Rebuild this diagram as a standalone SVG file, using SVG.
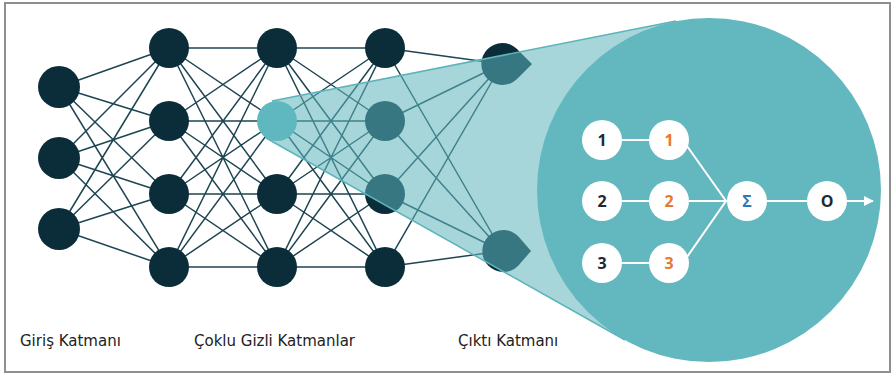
<svg xmlns="http://www.w3.org/2000/svg" width="894" height="375" viewBox="0 0 894 375">
<defs>
<style>
.ln{stroke:#1d4552;stroke-width:1.5;fill:none}
.nd{fill:#0b2d3a}
.lbl{font-family:"DejaVu Sans",Verdana,sans-serif;font-size:15px;fill:#222}
.wl{stroke:#ffffff;stroke-width:2;fill:none}
.wc{fill:#ffffff}
.num{font-family:"Open Sans","Noto Sans",sans-serif;font-size:16px;font-weight:700;text-anchor:middle;dominant-baseline:central}
</style>
<marker id="arr" viewBox="0 0 10 10" refX="9" refY="5" markerWidth="5" markerHeight="5" orient="auto" markerUnits="strokeWidth">
<path d="M0,0 L10,5 L0,10 z" fill="#ffffff"/>
</marker>
</defs>
<rect x="5" y="3" width="885" height="369" fill="#ffffff" stroke="#8f8f8f" stroke-width="2"/>
<g id="connectors">
<!-- input to h1 -->
<path class="ln" d="M59,87 L169,48 M59,87 L169,121 M59,87 L169,194 M59,87 L169,267
M59,158 L169,48 M59,158 L169,121 M59,158 L169,194 M59,158 L169,267
M59,229 L169,48 M59,229 L169,121 M59,229 L169,194 M59,229 L169,267"/>
<!-- h1 to h2 -->
<path class="ln" d="M169,48 L277,48 M169,48 L277,121 M169,48 L277,194 M169,48 L277,267
M169,121 L277,48 M169,121 L277,121 M169,121 L277,194 M169,121 L277,267
M169,194 L277,48 M169,194 L277,121 M169,194 L277,194 M169,194 L277,267
M169,267 L277,48 M169,267 L277,121 M169,267 L277,194 M169,267 L277,267"/>
<!-- h2 to h3 -->
<path class="ln" d="M277,48 L385,48 M277,48 L385,121 M277,48 L385,194 M277,48 L385,267
M277,121 L385,48 M277,121 L385,121 M277,121 L385,194 M277,121 L385,267
M277,194 L385,48 M277,194 L385,121 M277,194 L385,194 M277,194 L385,267
M277,267 L385,48 M277,267 L385,121 M277,267 L385,194 M277,267 L385,267"/>
<!-- h3 to output -->
<path class="ln" d="M385,48 L502,64 M385,48 L502,251 M385,121 L502,64 M385,121 L502,251
M385,194 L502,64 M385,194 L502,251 M385,267 L502,64 M385,267 L502,251"/>
</g>
<g id="input-layer">
<circle class="nd" cx="59" cy="87" r="21"/>
<circle class="nd" cx="59" cy="158" r="21"/>
<circle class="nd" cx="59" cy="229" r="21"/>
</g>
<g id="hidden-layer-1">
<circle class="nd" cx="169" cy="48" r="20"/>
<circle class="nd" cx="169" cy="121" r="20"/>
<circle class="nd" cx="169" cy="194" r="20"/>
<circle class="nd" cx="169" cy="267" r="20"/>
</g>
<g id="hidden-layer-2">
<circle class="nd" cx="277" cy="48" r="20"/>
<circle class="nd" cx="277" cy="194" r="20"/>
<circle class="nd" cx="277" cy="267" r="20"/>
</g>
<g id="hidden-layer-3">
<circle class="nd" cx="385" cy="48" r="20"/>
<circle class="nd" cx="385" cy="121" r="20"/>
<circle class="nd" cx="385" cy="194" r="20"/>
<circle class="nd" cx="385" cy="267" r="20"/>
</g>
<g id="output-layer">
<path class="nd" d="M517,49 A21,21 0 1 0 517,79 L532,64 Z"/>
<path class="nd" d="M518,236 A21,21 0 1 0 518,266 L531,251 Z"/>
</g>
<g id="zoom-cone">
<polygon points="272,101 676,21 709,190 625,340 266,138" fill="#5db5bc" fill-opacity="0.55"/>
<path d="M272,101 L676,21 M266,138 L625,340" stroke="#5cb4bb" stroke-width="1.5" fill="none"/>
<circle cx="709" cy="190" r="172" fill="#63b8bf"/>
</g>
<g id="apex-node">
<circle cx="277" cy="121" r="20" fill="#5fb8bf"/>
</g>
<g id="neuron-connectors">
<path class="wl" d="M622,140 L649,140 M622,201 L649,201 M622,263 L649,263"/>
<path class="wl" d="M687,146 L726,201 L687,257 M689,201 L727,201 M767,201 L807,201"/>
<path class="wl" d="M847,201 L873,201" marker-end="url(#arr)"/>
</g>
<g id="n-in1"><circle class="wc" cx="602" cy="140" r="20"/><text class="num" x="602" y="140" fill="#1b2a36">1</text></g>
<g id="n-in2"><circle class="wc" cx="602" cy="201" r="20"/><text class="num" x="602" y="201" fill="#1b2a36">2</text></g>
<g id="n-in3"><circle class="wc" cx="602" cy="263" r="20"/><text class="num" x="602" y="263" fill="#1b2a36">3</text></g>
<g id="n-w1"><circle class="wc" cx="669" cy="140" r="20"/><text class="num" x="669" y="140" fill="#e8792b">1</text></g>
<g id="n-w2"><circle class="wc" cx="669" cy="201" r="20"/><text class="num" x="669" y="201" fill="#e8792b">2</text></g>
<g id="n-w3"><circle class="wc" cx="669" cy="263" r="20"/><text class="num" x="669" y="263" fill="#e8792b">3</text></g>
<g id="n-sum"><circle class="wc" cx="747" cy="201" r="20"/><text class="num" x="747" y="201" fill="#2b7bb9">Σ</text></g>
<g id="n-out"><circle class="wc" cx="827" cy="201" r="20"/><text class="num" x="827" y="201" fill="#1b2a36">O</text></g>
<g id="labels">
<text class="lbl" x="20" y="346">Giriş Katmanı</text>
<text class="lbl" x="194" y="346">Çoklu Gizli Katmanlar</text>
<text class="lbl" x="458" y="346">Çıktı Katmanı</text>
</g>
</svg>
